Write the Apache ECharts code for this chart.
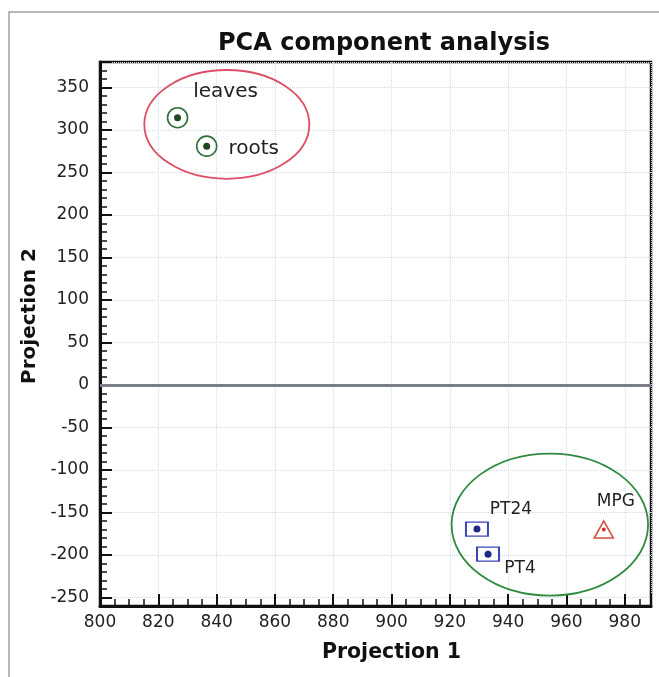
<!DOCTYPE html>
<html><head><meta charset="utf-8">
<script src="https://cdn.jsdelivr.net/npm/echarts@6/dist/echarts.min.js"></script>
<style>html,body{margin:0;padding:0;background:#fff}#c{width:659px;height:677px}</style>
</head><body><div id="c"></div>
<script>
// ---- data ----
const sampleNames = ['leaves', 'roots', 'PT24', 'PT4', 'MPG'];
const projection1 = [826.6, 836.6, 929.3, 933.1, 972.8];
const projection2 = [314.5, 281.0, -169.5, -199.0, -170.0];
const sampleGroup = ['tissue', 'tissue', 'treated', 'treated', 'control'];
const xTickLabels = [800, 820, 840, 860, 880, 900, 920, 940, 960, 980];
const yTickLabels = [-250, -200, -150, -100, -50, 0, 50, 100, 150, 200, 250, 300, 350];
const clusterCenterX = [843.5, 954.3];
const clusterCenterY = [306.6, -164.2];
const clusterRadiusX = [28.3, 33.7];
const clusterRadiusY = [64.0, 83.5];

// ---- styles ----
const FONT = 'DejaVu Sans';
const clusterColors = ['#dc4f66', '#2e8a3e'];
const groupStyle = {
  tissue:  { outer: 'circle',   outerSize: 20,      stroke: '#2f6f3a', inner: 7, dot: '#1d4a22' },
  treated: { outer: 'rect',     outerSize: [22, 14], stroke: '#3b44b8', inner: 7, dot: '#1f2a88' },
  control: { outer: 'triangle', outerSize: [19, 17], stroke: '#d4503e', inner: 4, dot: '#c83a2e' }
};
const labelOffset = { leaves: [48, -26], roots: [47, 3], PT24: [34, -19], PT4: [32, 14], MPG: [12, -28] };

const series = [];
series.push({
  type: 'custom',
  z: 1,
  silent: true,
  encode: { x: 0, y: 1 },
  data: clusterCenterX.map((x, i) => [x, clusterCenterY[i], clusterRadiusX[i], clusterRadiusY[i]]),
  renderItem: (params, api) => {
    const c = api.coord([api.value(0), api.value(1)]);
    const s = api.size([api.value(2), api.value(3)]);
    return { type: 'ellipse', shape: { cx: c[0], cy: c[1], rx: s[0], ry: s[1] },
      style: { fill: 'none', stroke: clusterColors[params.dataIndex], lineWidth: 1.8 } };
  },
  markLine: {
    silent: true, symbol: 'none', label: { show: false },
    lineStyle: { color: '#7b7f87', width: 3, type: 'solid' },
    data: [{ yAxis: 0 }]
  }
});
Object.keys(groupStyle).forEach(g => {
  const st = groupStyle[g];
  const idx = sampleNames.map((n, i) => i).filter(i => sampleGroup[i] === g);
  series.push({
    type: 'scatter', z: 3, symbol: st.outer, symbolSize: st.outerSize,
    itemStyle: { color: '#fff', borderColor: st.stroke, borderWidth: 1.6, opacity: 1 },
    data: idx.map(i => ({
      name: sampleNames[i], value: [projection1[i], projection2[i]],
      label: { show: true, position: 'inside', offset: labelOffset[sampleNames[i]],
        formatter: '{b}', color: '#222', fontFamily: FONT,
        fontSize: g === 'tissue' ? 20 : 17, align: 'center', verticalAlign: 'middle' }
    }))
  });
  series.push({
    type: 'scatter', z: 4, symbol: 'circle', symbolSize: st.inner,
    itemStyle: { color: st.dot, opacity: 1 },
    data: idx.map(i => [projection1[i], projection2[i]])
  });
});

const chart = echarts.init(document.getElementById('c'), null, { renderer: 'canvas' });
chart.setOption({
  animation: false,
  backgroundColor: '#fff',
  textStyle: { fontFamily: FONT },
  title: {
    text: 'PCA component analysis', left: 379, top: 27, textAlign: 'center',
    textStyle: { fontFamily: FONT, fontWeight: 'bold', fontSize: 24, color: '#111' }
  },
  graphic: [{
    type: 'polyline', silent: true,
    shape: { points: [[9, 677], [9, 12], [659, 12]] },
    style: { stroke: '#a0a0a0', lineWidth: 1.5, fill: 'none' }
  }],
  grid: { left: 100, top: 62, width: 551, height: 544, show: true, borderColor: '#111', borderWidth: 2.5 },
  xAxis: {
    type: 'value', min: 800, max: 989, splitNumber: 9, minInterval: 20, maxInterval: 20,
    name: 'Projection 1', nameLocation: 'middle', nameGap: 36,
    nameTextStyle: { fontFamily: FONT, fontWeight: 'bold', fontSize: 20.5, color: '#111', padding: [0, 0, 0, 32] },
    axisLine: { show: true, onZero: false, lineStyle: { color: '#111', width: 3 } },
    axisTick: { show: true, inside: true, length: 12, lineStyle: { color: '#111', width: 2 } },
    minorTick: { show: true, splitNumber: 4, length: 7, lineStyle: { color: '#111', width: 1.5 } },
    axisLabel: { fontFamily: FONT, fontSize: 17, color: '#222', margin: 8, showMaxLabel: false,
      formatter: v => xTickLabels.indexOf(v) >= 0 ? String(v) : '' },
    splitLine: { show: true, lineStyle: { color: '#cfdbe6', type: 'dotted', width: 1 } }
  },
  yAxis: {
    type: 'value', min: -260, max: 380, splitNumber: 12, minInterval: 50, maxInterval: 50,
    name: 'Projection 2', nameLocation: 'middle', nameGap: 48, nameRotate: 90,
    nameTextStyle: { fontFamily: FONT, fontWeight: 'bold', fontSize: 20, color: '#111', padding: [0, 0, 0, 36] },
    axisLine: { show: true, onZero: false, lineStyle: { color: '#111', width: 3 } },
    axisTick: { show: true, inside: true, length: 12, lineStyle: { color: '#111', width: 2 } },
    minorTick: { show: true, splitNumber: 5, length: 7, lineStyle: { color: '#111', width: 1.5 } },
    axisLabel: { fontFamily: FONT, fontSize: 17, color: '#222', margin: 11, showMinLabel: false, showMaxLabel: false,
      formatter: v => yTickLabels.indexOf(v) >= 0 ? String(v) : '' },
    splitLine: { show: true, lineStyle: { color: '#cfdbe6', type: 'dotted', width: 1 } }
  },
  series: series
});
</script></body></html>
